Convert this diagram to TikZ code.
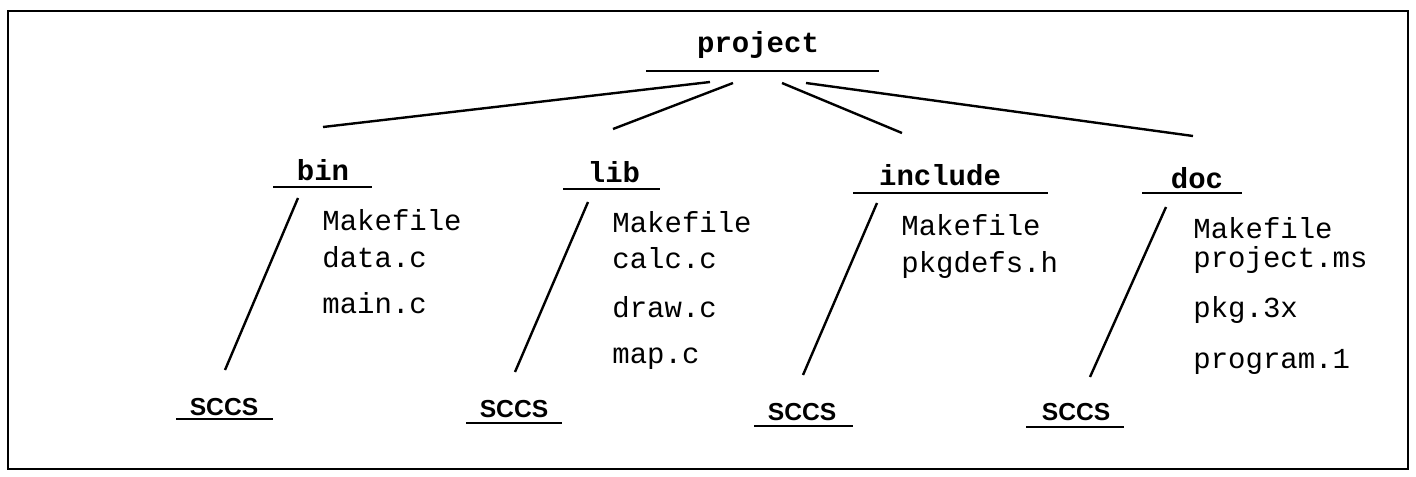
\documentclass[tikz,border=0pt]{standalone}
\usepackage{fontspec}
\newfontfamily\monofam{Liberation Mono}
\newfontfamily\sansfam{Liberation Sans}
\begin{document}
\begin{tikzpicture}[x=0.5pt,y=-0.5pt,
  link/.style={line width=1.2pt},
  uline/.style={line width=1.1pt},
  dirname/.style={font=\monofam\bfseries\fontsize{14.5}{16}\selectfont, anchor=base, inner sep=0pt},
  filename/.style={font=\monofam\fontsize{14.5}{16}\selectfont, anchor=base west, inner sep=0pt},
  sccsname/.style={font=\sansfam\bfseries\fontsize{12.3}{14}\selectfont, anchor=base, inner sep=0pt}]
\useasboundingbox (0,0) rectangle (1416,476);
% outer frame
\draw[line width=1pt] (8,11) rectangle (1408,469);

% root directory
\node[dirname] (project) at (758,53) {project};
\draw[uline] (646,71) -- (879,71);

% subdirectories
\node[dirname] (bin) at (323,180) {bin};
\draw[uline] (273,187) -- (372,187);
\node[dirname] (lib) at (614,182) {lib};
\draw[uline] (563,189) -- (660,189);
\node[dirname] (include) at (940,185) {include};
\draw[uline] (853,193) -- (1048,193);
\node[dirname] (doc) at (1197,188) {doc};
\draw[uline] (1142,193) -- (1242,193);

% branches from the root
\coordinate (pa) at (710,82);  \coordinate (binT) at (323,127);
\coordinate (pb) at (733,83);  \coordinate (libT) at (613,129);
\coordinate (pc) at (782,83);  \coordinate (incT) at (902,133);
\coordinate (pd) at (806,83);  \coordinate (docT) at (1193,136);
\draw[link] (pa) -- (binT);
\draw[link] (pb) -- (libT);
\draw[link] (pc) -- (incT);
\draw[link] (pd) -- (docT);

% SCCS subdirectories
\node[sccsname] (sccsBin) at (224,415) {SCCS};
\draw[uline] (176,419) -- (273,419);
\node[sccsname] (sccsLib) at (514,417) {SCCS};
\draw[uline] (466,423) -- (562,423);
\node[sccsname] (sccsInc) at (802,420) {SCCS};
\draw[uline] (754,426) -- (853,426);
\node[sccsname] (sccsDoc) at (1076,420) {SCCS};
\draw[uline] (1026,427) -- (1124,427);

% links down to SCCS
\coordinate (binA) at (298,198); \coordinate (binB) at (225,370);
\coordinate (libA) at (588,202); \coordinate (libB) at (515,372);
\coordinate (incA) at (877,203); \coordinate (incB) at (803,375);
\coordinate (docA) at (1166,207); \coordinate (docB) at (1090,377);
\draw[link] (binA) -- (binB);
\draw[link] (libA) -- (libB);
\draw[link] (incA) -- (incB);
\draw[link] (docA) -- (docB);

% files
\node[filename] (binf1) at (322,230) {Makefile};
\node[filename] (binf2) at (322,267) {data.c};
\node[filename] (binf3) at (322,313) {main.c};

\node[filename] (libf1) at (612,232) {Makefile};
\node[filename] (libf2) at (612,268) {calc.c};
\node[filename] (libf3) at (612,317) {draw.c};
\node[filename] (libf4) at (612,363) {map.c};

\node[filename] (incf1) at (901,235) {Makefile};
\node[filename] (incf2) at (901,272) {pkgdefs.h};

\node[filename] (docf1) at (1193,238) {Makefile};
\node[filename] (docf2) at (1193,267) {project.ms};
\node[filename] (docf3) at (1193,317) {pkg.3x};
\node[filename] (docf4) at (1193,368) {program.1};
\end{tikzpicture}
\end{document}
